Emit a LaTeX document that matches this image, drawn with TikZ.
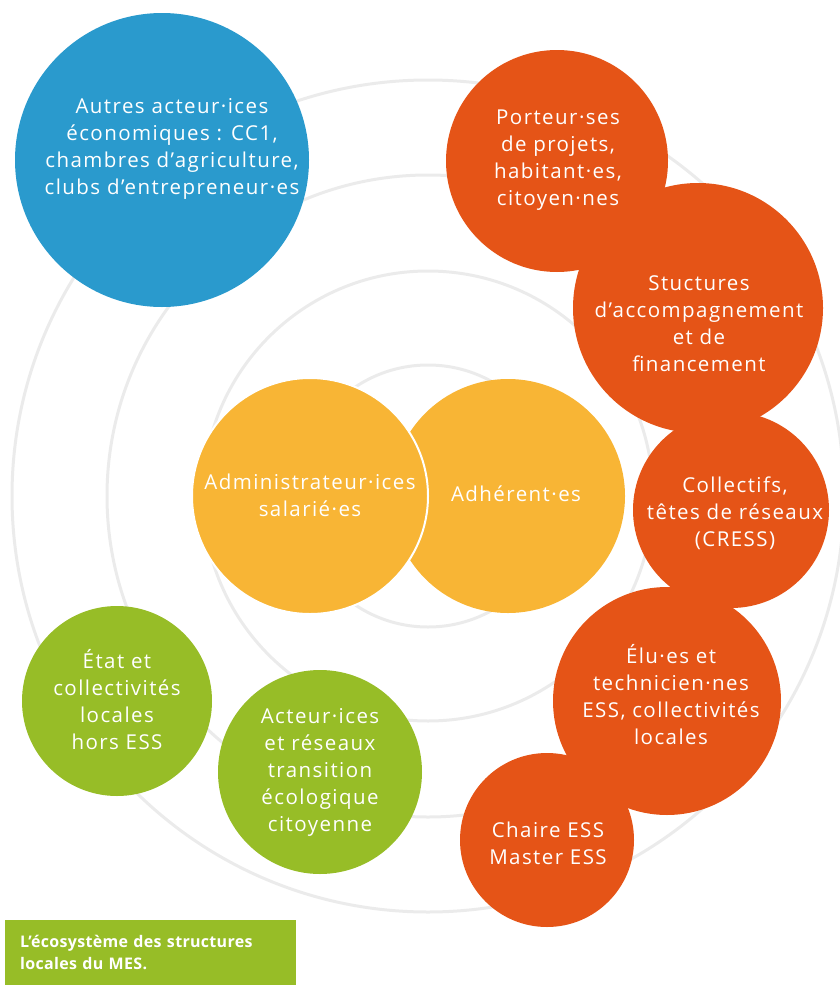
\documentclass[tikz,border=0pt]{standalone}
\usepackage{fontspec}
\usepackage{tikz}
\usepackage{xcolor}
\setmainfont{Open Sans}[LetterSpace=7]
\newfontfamily\captionfont{Open Sans}[LetterSpace=2]
\definecolor{essblue}{HTML}{2A9ACD}
\definecolor{essorange}{HTML}{E55417}
\definecolor{essyellow}{HTML}{F8B535}
\definecolor{essgreen}{HTML}{97BD27}
\definecolor{ringgray}{HTML}{EBEBEB}

\begin{document}
\begin{tikzpicture}[
            x=1pt, y=-1pt,
            ring/.style={draw=ringgray, line width=3pt, circle, inner sep=0pt},
            bubble/.style={circle, inner sep=0pt},
            txt/.style={text=white, align=center, font=\fontsize{20.5}{27}\selectfont},
            caption/.style={fill=essgreen, text=white, align=left, anchor=north west,
                inner xsep=15pt, inner ysep=0pt, text width=261pt, minimum height=65pt,
                font=\captionfont\bfseries\fontsize{16}{22}\selectfont}
        ]
            \useasboundingbox (0,0) rectangle (840,985);
            
            % Rings
            \node[ring, minimum size=262pt] (ring1) at (428,496) {};
            \node[ring, minimum size=450pt] (ring2) at (428,496) {};
            \node[ring, minimum size=642pt] (ring3) at (428,496) {};
            \node[ring, minimum size=832pt] (ring4) at (428,496) {};
            
            % Blue circle
            \node[bubble, fill=essblue, minimum size=294pt] (autres) at (162,160) {};
            
            % Orange circles
            \node[bubble, fill=essorange, minimum size=222pt] (porteur) at (557,161) {};
            \node[bubble, fill=essorange, minimum size=250pt] (stuct) at (698,308) {};
            \node[bubble, fill=essorange, minimum size=196pt] (collectifs) at (731,510) {};
            \node[bubble, fill=essorange, minimum size=228pt] (elus) at (667,701) {};
            \node[bubble, fill=essorange, minimum size=174pt] (chaire) at (547,840) {};
            
            % Yellow circles
            \node[bubble, fill=essyellow, minimum size=234pt] (adherent) at (508,496) {};
            \node[bubble, fill=essyellow, draw=white, line width=2pt, minimum size=236pt] (admin) at (310,496) {};
            
            % Green circles
            \node[bubble, fill=essgreen, minimum size=190pt] (etat) at (117,701) {};
            \node[bubble, fill=essgreen, minimum size=204pt] (acteurs) at (320,772) {};
            
            % Texts
            \node[txt] (autres-t) at (172,149) {Autres acteur·ices\\économiques : CC1,\\chambres d’agriculture,\\clubs d’entrepreneur·es};
            \node[txt] (porteur-t) at (558,160) {Porteur·ses\\de projets,\\habitant·es,\\citoyen·nes};
            \node[txt] (stuct-t) at (699,324) {Stuctures\\d’accompagnement\\et de\\financement};
            \node[txt] (collectifs-t) at (735,513) {Collectifs,\\têtes de réseaux\\(CRESS)};
            \node[txt] (elus-t) at (671,695) {Élu·es et\\technicien·nes\\ESS, collectivités\\locales};
            \node[txt] (chaire-t) at (548,843) {Chaire ESS\\Master ESS};
            \node[txt] (admin-t) at (310,495) {Administrateur·ices\\salarié·es};
            \node[txt] (adherent-t) at (516,494) {Adhérent·es};
            \node[txt] (etat-t) at (117,700) {État et\\collectivités\\locales\\hors ESS};
            \node[txt] (acteurs-t) at (320,772) {Acteur·ices\\et réseaux\\transition\\écologique\\citoyenne};
            
            % Caption
            \node[caption] (legende) at (5,920) {L’écosystème des structures\\locales du MES.};
        \end{tikzpicture}
\end{document}
